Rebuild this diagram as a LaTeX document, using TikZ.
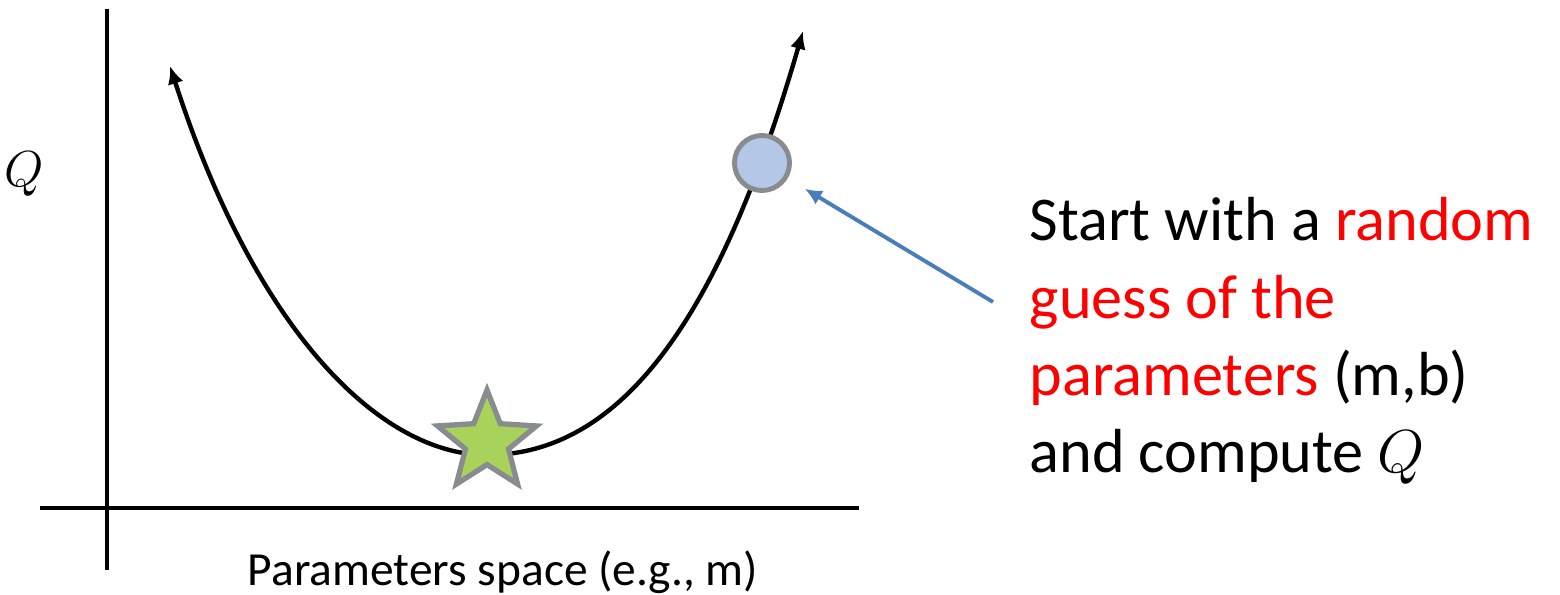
\documentclass[tikz,border=0pt]{standalone}
\usepackage{fontspec}
\setmainfont{Carlito}
\usepackage{tikz}
\usetikzlibrary{arrows.meta,shapes.geometric}
\usepackage{xcolor}
\definecolor{guessfill}{HTML}{B4C7E7}
\definecolor{pointerblue}{HTML}{4A7EBB}
\definecolor{stargreen}{HTML}{A9D25A}
\definecolor{rimgray}{HTML}{898C8F}
\definecolor{hotred}{HTML}{FF0000}
\tikzset{
  axis/.style={draw=black, line width=1.4pt},
  costcurve/.style={{Latex[length=1.8mm,width=1.6mm]}-{Latex[length=1.8mm,width=1.6mm]}, line width=1.25pt},
  pointer/.style={-{Latex[length=1.7mm,width=1.6mm]}, draw=pointerblue, line width=1.1pt},
  guessdot/.style={circle, draw=rimgray, fill=guessfill, line width=1.4pt, minimum size=0.55cm, inner sep=0pt},
  optstar/.style={star, star points=5, star point ratio=2.3, draw=rimgray, fill=stargreen, line width=1.5pt, minimum size=1.04cm, inner sep=0pt}
}

\begin{document}
\begin{tikzpicture}[x=0.01cm, y=-0.01cm,
  note/.style={align=left, inner sep=0pt, font=\fontsize{17.7pt}{22pt}\selectfont},
  axlbl/.style={inner sep=0pt, font=\fontsize{13.5pt}{16pt}\selectfont}
]
\useasboundingbox (0,0) rectangle (1560,595);
% axes
\coordinate (ytop) at (107,9);
\coordinate (ybot) at (107,570);
\coordinate (xleft) at (40,508);
\coordinate (xright) at (859,508);
\draw[axis] (ybot) -- (ytop);
\draw[axis] (xleft) -- (xright);
\node[axlbl] (qlabel) at (24,174) {$Q$};
\node[axlbl, anchor=base] (xlabel) at (503,586) {Parameters space (e.g., m)};
% cost curve
\draw[costcurve] (170,66) .. controls (255,330) and (380,455) .. (487,455)
  .. controls (637,455) and (730,283) .. (803,31);
% optimum and first guess
\node[optstar] (optimum) at (487,442) {};
\node[guessdot] (guess) at (762,163) {};
% explanation
\node[note, anchor=base west] (note) at (1029,473) {Start with a \textcolor{hotred}{random}\\\textcolor{hotred}{guess of the}\\\textcolor{hotred}{parameters} (m,b)\\and compute $Q$};
\coordinate (tail) at (993,302);
\draw[pointer, shorten >=0.2cm] (tail) -- (guess);
\end{tikzpicture}
\end{document}
